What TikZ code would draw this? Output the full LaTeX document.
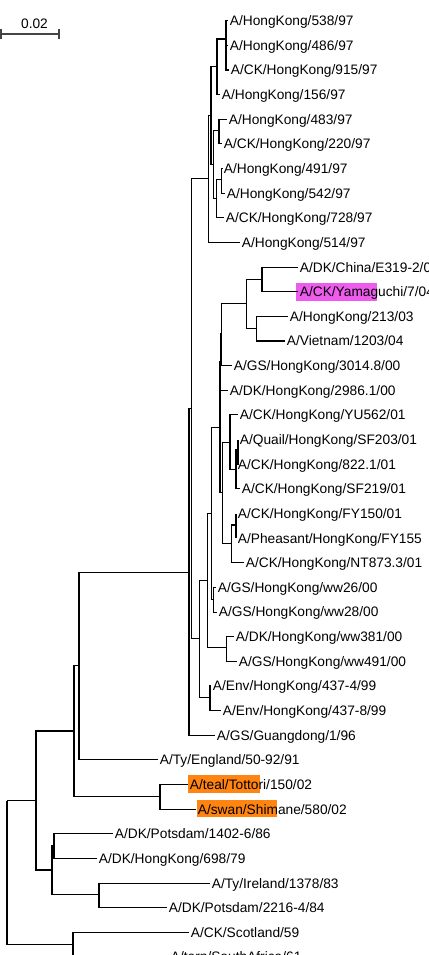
\documentclass[tikz,border=0pt]{standalone}
\usepackage{fontspec}
\setmainfont{Liberation Sans}
\definecolor{yamapink}{HTML}{EE5CEE}
\definecolor{marker}{HTML}{FF8412}
\definecolor{barink}{HTML}{444444}
\newcommand{\strainfont}{\fontsize{10.3}{12}\selectfont}
\tikzset{
  branch/.style={draw=black,line width=.8pt},
  strain/.style={anchor=base west,inner sep=0pt,xshift=1.2pt,yshift=-3.7pt,
                 font=\strainfont,text=black},
  scalebar/.style={draw=barink,line width=.8pt}
}
% leaf: name, tip x, row, label
\newcommand{\leafrow}[4]{%
  \coordinate (#1) at (#2,{20.7+24.64*(#3-1)});
  \node[strain] (#1t) at (#1) {#4};
}

\begin{document}
\begin{tikzpicture}[x=.75pt,y=-.75pt]
  \useasboundingbox (0,0) rectangle (428,955);
  \clip (0,0) rectangle (428,955);
  \fill[white] (0,0) rectangle (428,955);

  % highlighted strains
  \fill[yamapink] (295.5,283) rectangle (376.5,300.5);
  \fill[marker] (188,775.3) rectangle (259.5,792.7);
  \fill[marker] (196.5,799.6) rectangle (277.3,817);

  % scale bar
  \coordinate (sbl) at (1,34);
  \coordinate (sbr) at (59,34);
  \draw[scalebar] (sbl) -- (sbr);
  \draw[scalebar] ([yshift=3.4pt]sbl) -- ([yshift=-3.4pt]sbl);
  \draw[scalebar] ([yshift=3.4pt]sbr) -- ([yshift=-3.4pt]sbr);
  \node[font=\strainfont,inner sep=0pt] (sblab) at (34.5,23.3) {0.02};

  % ======================== LEAVES ========================
  \leafrow{hkfivethree}{228}{1}{A/HongKong/538/97}
  \leafrow{hkfoureight}{228}{2}{A/HongKong/486/97}
  \leafrow{cknineone}{229}{3}{A/CK/HongKong/915/97}
  \leafrow{hkonefive}{220}{4}{A/HongKong/156/97}
  \leafrow{hkfourthree}{227}{5}{A/HongKong/483/97}
  \leafrow{cktwotwo}{222}{6}{A/CK/HongKong/220/97}
  \leafrow{hkfournine}{222}{7}{A/HongKong/491/97}
  \leafrow{hkfivefour}{225}{8}{A/HongKong/542/97}
  \leafrow{ckseventwo}{224}{9}{A/CK/HongKong/728/97}
  \leafrow{hkfiveone}{240}{10}{A/HongKong/514/97}
  \leafrow{dkchina}{298}{11}{A/DK/China/E319-2/03}
  \leafrow{ckyama}{298}{12}{A/CK/Yamaguchi/7/04}
  \leafrow{hktwoone}{288}{13}{A/HongKong/213/03}
  \leafrow{vietnam}{285}{14}{A/Vietnam/1203/04}
  \leafrow{gsthree}{232}{15}{A/GS/HongKong/3014.8/00}
  \leafrow{dktwonine}{228}{16}{A/DK/HongKong/2986.1/00}
  \leafrow{ckyu}{238}{17}{A/CK/HongKong/YU562/01}
  \leafrow{quail}{238}{18}{A/Quail/HongKong/SF203/01}
  \leafrow{ckeight}{236}{19}{A/CK/HongKong/822.1/01}
  \leafrow{cksf}{240}{20}{A/CK/HongKong/SF219/01}
  \leafrow{ckfy}{236}{21}{A/CK/HongKong/FY150/01}
  \leafrow{pheasant}{236}{22}{A/Pheasant/HongKong/FY155}
  \leafrow{cknt}{244}{23}{A/CK/HongKong/NT873.3/01}
  \leafrow{gswwa}{216}{24}{A/GS/HongKong/ww26/00}
  \leafrow{gswwb}{217}{25}{A/GS/HongKong/ww28/00}
  \leafrow{dkww}{234}{26}{A/DK/HongKong/ww381/00}
  \leafrow{gswwc}{237}{27}{A/GS/HongKong/ww491/00}
  \leafrow{envfour}{211}{28}{A/Env/HongKong/437-4/99}
  \leafrow{enveight}{221}{29}{A/Env/HongKong/437-8/99}
  \leafrow{gsgd}{215}{30}{A/GS/Guangdong/1/96}
  \leafrow{tyeng}{158}{31}{A/Ty/England/50-92/91}
  \leafrow{teal}{188}{32}{A/teal/Tottori/150/02}
  \leafrow{swan}{196}{33}{A/swan/Shimane/580/02}
  \leafrow{dkpota}{113}{34}{A/DK/Potsdam/1402-6/86}
  \leafrow{dkhkold}{97}{35}{A/DK/HongKong/698/79}
  \leafrow{tyirl}{210}{36}{A/Ty/Ireland/1378/83}
  \leafrow{dkpotb}{167}{37}{A/DK/Potsdam/2216-4/84}
  \leafrow{ckscot}{189}{38}{A/CK/Scotland/59}
  \leafrow{tern}{169}{39}{A/tern/SouthAfrica/61}

  % ======================== INNER NODES ========================
  % 1997 Hong Kong outbreak
  \coordinate (nA) at (226,39);
  \coordinate (nB) at (217,66.7);
  \coordinate (nC) at (219,130.8);
  \coordinate (nD) at (221.7,179.8);
  \coordinate (nE) at (216.7,198.2);
  \coordinate (nF) at (213.5,164.5);
  \coordinate (nG) at (211,115.6);
  \coordinate (hkgrp) at (208.5,178.6);
  % 2000--2004 Gs/Gd lineage
  \coordinate (kc) at (262,279.2);
  \coordinate (kv) at (256.7,328.3);
  \coordinate (kzero) at (246.7,303.8);
  \coordinate (kone) at (221.7,333.9);
  \coordinate (ktwo) at (220.3,362);
  \coordinate (othree) at (238,450);
  \coordinate (otwo) at (236,469.2);
  \coordinate (oone) at (230,442.1);
  \coordinate (fone) at (236,525);
  \coordinate (fzero) at (231.7,543.4);
  \coordinate (nv) at (222.7,492.7);
  \coordinate (nu) at (220,427.4);
  \coordinate (nw) at (213.3,599.2);
  \coordinate (nt) at (211.7,513.3);
  \coordinate (nq) at (226.7,647.2);
  \coordinate (nm) at (207.5,580.2);
  \coordinate (nev) at (210,697.2);
  \coordinate (ngd) at (199.5,638.7);
  \coordinate (nhfive) at (191.7,408.6);
  \coordinate (nj) at (189,572.2);
  % deep branches
  \coordinate (ng) at (79,665.7);
  \coordinate (nh) at (160,796.2);
  \coordinate (nc) at (74,731);
  \coordinate (ne) at (54,845.7);
  \coordinate (nf) at (99,894.2);
  \coordinate (nd) at (52,870);
  \coordinate (na) at (36,800.5);
  \coordinate (nb) at (73,944.6);
  \coordinate (root) at (7,800.5);
  \coordinate (rootb) at (7,944.6);

  % ======================== BRANCHES ========================
  \foreach \p/\c in {nA/hkfivethree,nA/hkfoureight,nA/cknineone,
      nB/nA,nB/hkonefive,nC/hkfourthree,nC/cktwotwo,
      nD/hkfournine,nD/hkfivefour,nE/nD,nE/ckseventwo,
      nF/nC,nF/nE,nG/nB,nG/nF,hkgrp/nG,hkgrp/hkfiveone,
      kc/dkchina,kc/ckyama,kv/hktwoone,kv/vietnam,
      kzero/kc,kzero/kv,kone/kzero,kone/gsthree,
      ktwo/kone,ktwo/dktwonine,
      othree/quail,othree/ckeight,otwo/othree,otwo/cksf,
      oone/ckyu,oone/otwo,fone/ckfy,fone/pheasant,
      fzero/fone,fzero/cknt,nv/oone,nv/fzero,
      nu/ktwo,nu/nv,nw/gswwa,nw/gswwb,nt/nu,nt/nw,
      nq/dkww,nq/gswwc,nm/nt,nm/nq,nev/envfour,nev/enveight,
      ngd/nm,ngd/nev,nhfive/hkgrp,nhfive/ngd,
      nj/nhfive,nj/gsgd,ng/nj,ng/tyeng,
      nh/teal,nh/swan,nc/ng,nc/nh,
      ne/dkpota,ne/dkhkold,nf/tyirl,nf/dkpotb,
      nd/ne,nd/nf,na/nc,na/nd,nb/ckscot,nb/tern}{
    \draw[branch] (\p) |- (\c);
  }
  \draw[branch] (root) |- (na);
  \draw[branch] (rootb) -- (root);
  \draw[branch] (rootb) -- (nb);
\end{tikzpicture}
\end{document}
